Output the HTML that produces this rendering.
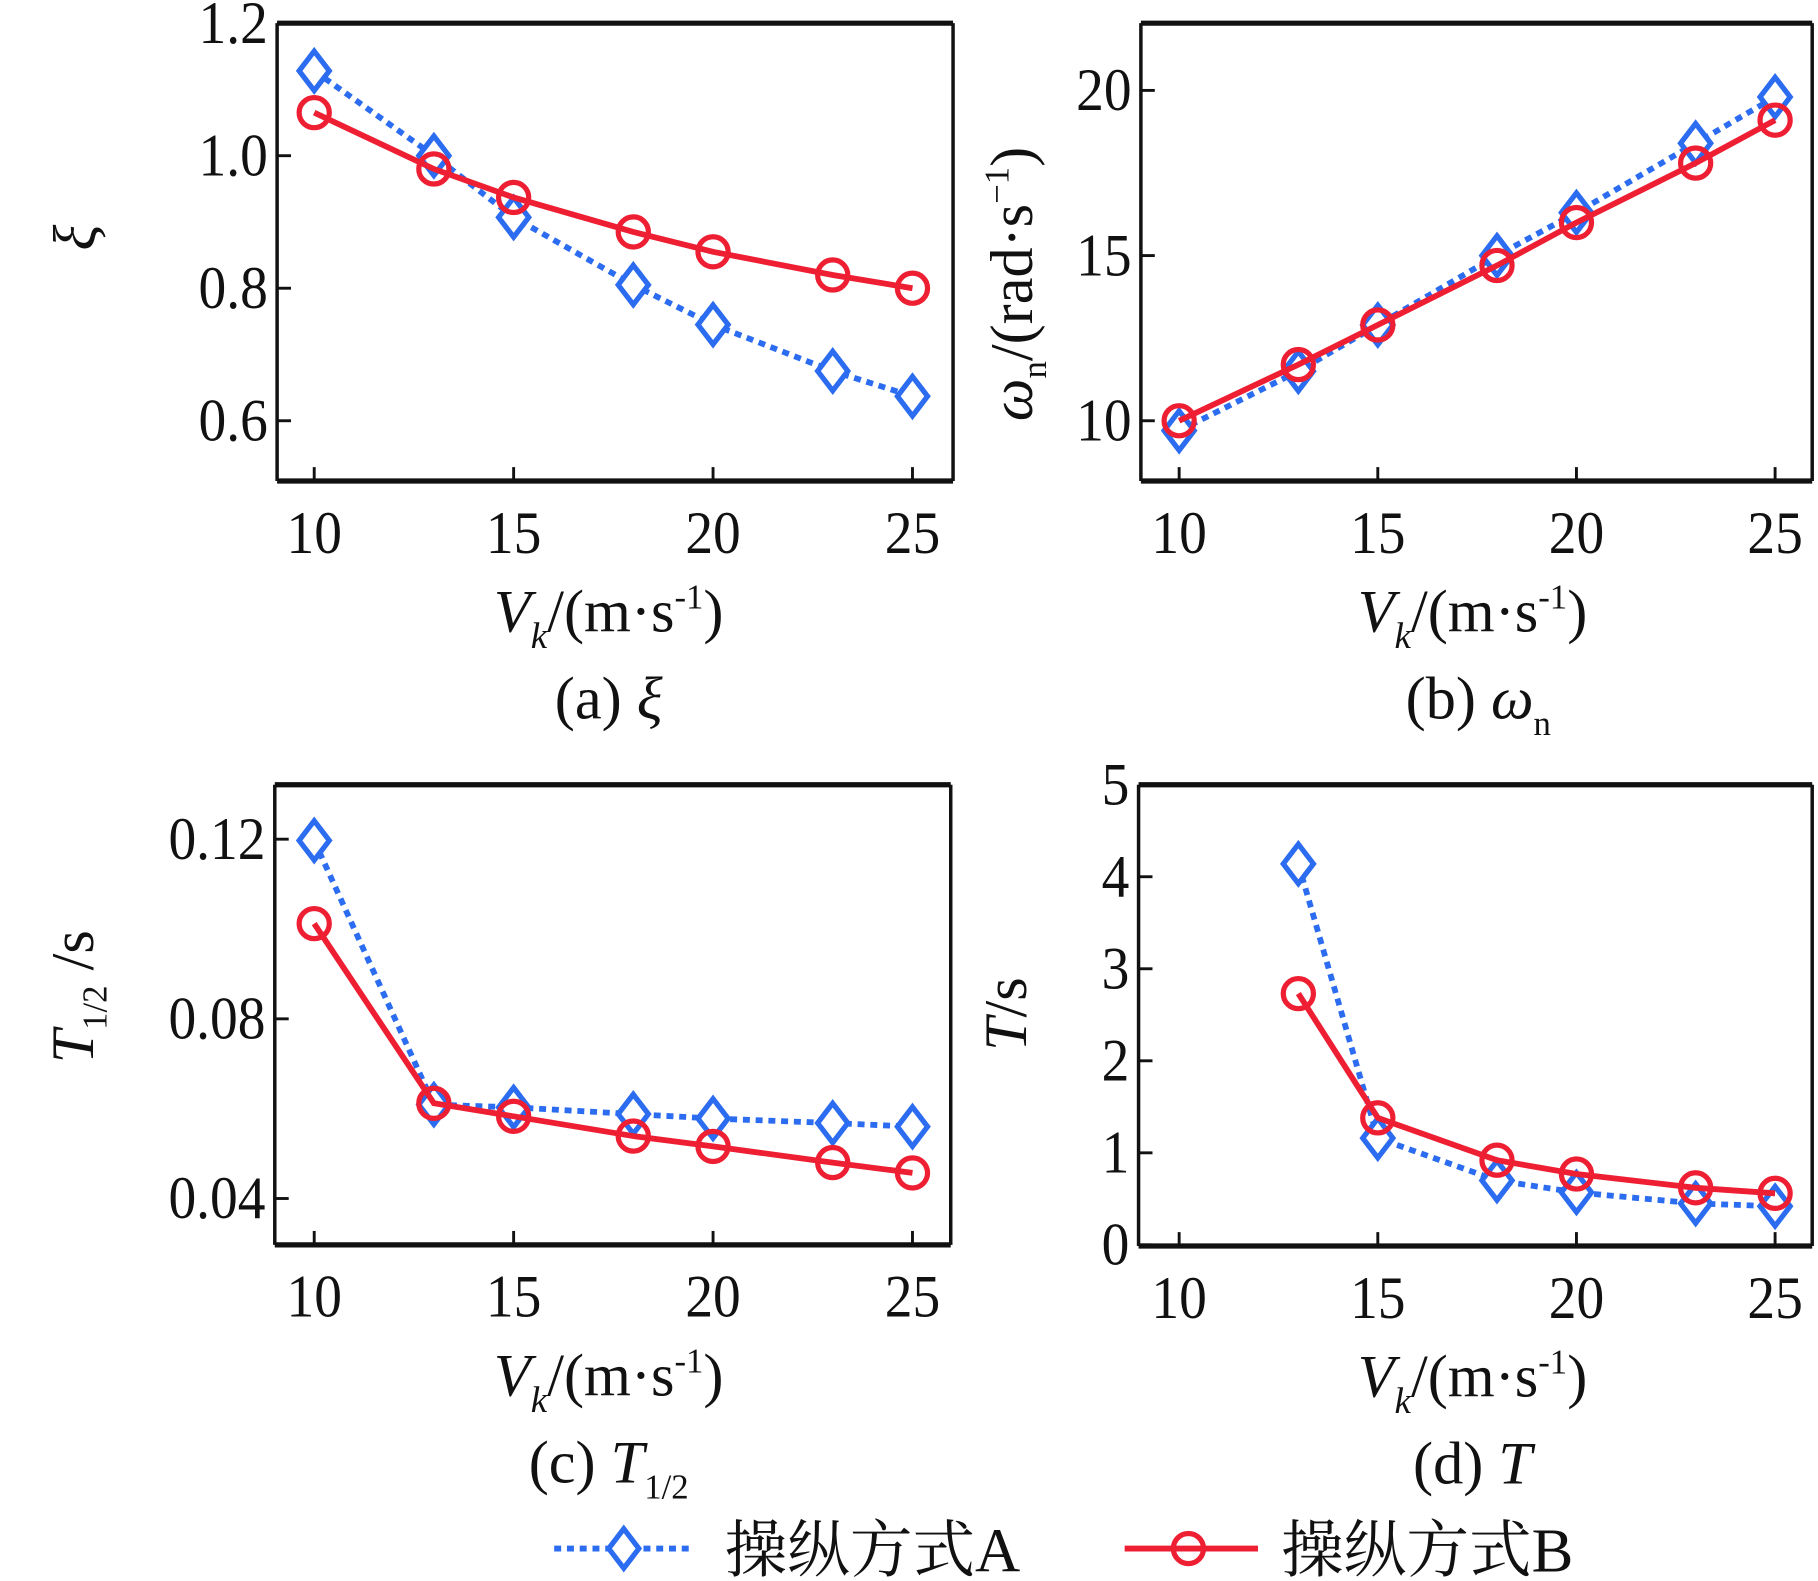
<!DOCTYPE html>
<html><head><meta charset="utf-8"><style>
html,body{margin:0;padding:0;background:#fff;}
svg{display:block;}
text{font-family:"Liberation Serif","Noto Serif CJK SC",serif;fill:#111;}
</style></head><body>
<svg id="fig" width="1818" height="1581" viewBox="0 0 1568 1364" preserveAspectRatio="none" xmlns="http://www.w3.org/2000/svg"></svg>
<script>
const speeds = [10, 13, 15, 18, 20, 23, 25];
const xiA = [1.128, 1.0, 0.907, 0.805, 0.745, 0.675, 0.637];
const xiB = [1.065, 0.98, 0.937, 0.885, 0.855, 0.82, 0.80];
const wnA = [9.7, 11.5, 12.9, 15.0, 16.3, 18.4, 19.8];
const wnB = [10.0, 11.7, 12.9, 14.7, 16.0, 17.8, 19.1];
const thA = [0.1197, 0.0609, 0.0603, 0.0588, 0.0578, 0.0568, 0.056];
const thB = [0.1012, 0.0612, 0.0583, 0.0539, 0.0516, 0.048, 0.0457];
const tSpeeds = [13, 15, 18, 20, 23, 25];
const tA = [4.14, 1.16, 0.70, 0.57, 0.45, 0.42];
const tB = [2.73, 1.38, 0.92, 0.77, 0.62, 0.56];
const xTicks = [10, 15, 20, 25];
const xiTicks = [0.6, 0.8, 1.0, 1.2];
const xiTickLabels = ["0.6", "0.8", "1.0", "1.2"];
const wnTicks = [10, 15, 20];
const wnTickLabels = ["10", "15", "20"];
const thTicks = [0.04, 0.08, 0.12];
const thTickLabels = ["0.04", "0.08", "0.12"];
const tTicks = [0, 1, 2, 3, 4, 5];
const tTickLabels = ["0", "1", "2", "3", "4", "5"];

const NS = "http://www.w3.org/2000/svg";
const svg = document.getElementById('fig');
const BLUE = "#2b6cf0", RED = "#ee1f33";
function mk(tag, attrs, parent) {
  const e = document.createElementNS(NS, tag);
  for (const k in attrs) e.setAttribute(k, attrs[k]);
  (parent || svg).appendChild(e);
  return e;
}
function diamond(g, x, y) {
  const d = mk('path', {d: `M${x} ${y-17} L${x+13} ${y} L${x} ${y+17} L${x-13} ${y} Z`, fill: '#fff', stroke: BLUE, 'stroke-width': 4.5}, g);
  
  
}
function circle(g, x, y) {
  const c = mk('circle', {cx: x, cy: y, r: 13, fill: 'none', stroke: RED, 'stroke-width': 4.5}, g);
  
  
}
function panel(p) {
  const g = mk('g', {});
  
  
  const sx = v => p.px0 + (v - 10) * (p.px1 - p.px0) / 15;
  const sy = v => p.py0 + (v - p.v0) * (p.py1 - p.py0) / (p.v1 - p.v0);
  xTicks.forEach(t => {
    const l = mk('line', {x1: sx(t), x2: sx(t), y1: p.b, y2: p.b - 12, stroke: '#111', 'stroke-width': 2.5}, g);
    
    
    const tx = mk('text', {x: 0, y: 0, 'font-size': 52, 'text-anchor': 'middle', transform: `translate(${sx(t)},${p.b + 62}) scale(0.92,1)`}, g);
    
    
    tx.textContent = t;
  });
  p.yt.forEach((t, i) => {
    const l = mk('line', {x1: p.l, x2: p.l + 12, y1: sy(t), y2: sy(t), stroke: '#111', 'stroke-width': 2.5}, g);
    
    
    const tx = mk('text', {x: 0, y: 0, 'font-size': 52, 'text-anchor': 'end', transform: `translate(${p.l - 8},${sy(t) + 17}) scale(0.92,1)`}, g);
    
    
    tx.textContent = p.ytl[i];
  });
  mk('line', {x1: p.l, x2: p.r, y1: p.t, y2: p.t, stroke: '#111', 'stroke-width': 4.5}, g);
  mk('line', {x1: p.l, x2: p.r, y1: p.b, y2: p.b, stroke: '#111', 'stroke-width': 4.5}, g);
  mk('line', {x1: p.l, x2: p.l, y1: p.t, y2: p.b, stroke: '#111', 'stroke-width': 3}, g);
  mk('line', {x1: p.r, x2: p.r, y1: p.t, y2: p.b, stroke: '#111', 'stroke-width': 3}, g);
  const ptsA = p.xs.map((v, i) => sx(v) + ',' + sy(p.a[i])).join(' ');
  const ptsB = p.xs.map((v, i) => sx(v) + ',' + sy(p.bb[i])).join(' ');
  const la = mk('polyline', {points: ptsA, fill: 'none', stroke: BLUE, 'stroke-width': 5, 'stroke-dasharray': '6 5'}, g);
  
  
  p.xs.forEach((v, i) => diamond(g, sx(v), sy(p.a[i])));
  const lb = mk('polyline', {points: ptsB, fill: 'none', stroke: RED, 'stroke-width': 5}, g);
  
  
  p.xs.forEach((v, i) => circle(g, sx(v), sy(p.bb[i])));
  const xl = mk('text', {x: p.xlx, y: p.b + 130, 'font-size': 52, 'text-anchor': 'middle'}, g);
  
  
  xl.innerHTML = '<tspan font-style="italic">V</tspan><tspan font-style="italic" font-size="32" dy="14">k</tspan><tspan dy="-14">/(m·s</tspan><tspan font-size="30" dy="-20">-1</tspan><tspan dy="20">)</tspan>';
  const cap = mk('text', {x: p.capx, y: p.b + 205, 'font-size': 52, 'text-anchor': 'middle'}, g);
  
  
  cap.innerHTML = p.cap;
  const yl = mk('text', {x: 0, y: 0, 'font-size': 52, 'text-anchor': 'middle', transform: `translate(${p.ylx},${p.yly}) rotate(-90)`}, g);
  
  
  yl.innerHTML = p.yl;
}
panel({name: 'panel-a-xi', l: 239, r: 822, t: 20, b: 415, px0: 271, px1: 787, v0: 1.2, v1: 0.6, py0: 20, py1: 363,
  xs: speeds, a: xiA, bb: xiB, yt: xiTicks, ytl: xiTickLabels, xlx: 525, capx: 525,
  cap: '(a) <tspan font-style="italic">ξ</tspan>', ylx: 82, yly: 205, yl: '<tspan font-style="italic">ξ</tspan>'});
panel({name: 'panel-b-omega', l: 984, r: 1563, t: 20, b: 415, px0: 1017, px1: 1531, v0: 20, v1: 10, py0: 78, py1: 363,
  xs: speeds, a: wnA, bb: wnB, yt: wnTicks, ytl: wnTickLabels, xlx: 1270, capx: 1275,
  cap: '(b) <tspan font-style="italic">ω</tspan><tspan font-size="30" dy="14">n</tspan>', ylx: 890, yly: 245,
  yl: '<tspan font-style="italic">ω</tspan><tspan font-size="30" dy="12">n</tspan><tspan dy="-12">/(rad·s</tspan><tspan font-size="30" dy="-20">−1</tspan><tspan dy="20">)</tspan>'});
panel({name: 'panel-c-half-time', l: 237, r: 820, t: 677, b: 1074, px0: 271, px1: 787, v0: 0.12, v1: 0.04, py0: 724, py1: 1034,
  xs: speeds, a: thA, bb: thB, yt: thTicks, ytl: thTickLabels, xlx: 525, capx: 525,
  cap: '(c) <tspan font-style="italic">T</tspan><tspan font-size="30" dy="14">1/2</tspan>', ylx: 80, yly: 860,
  yl: '<tspan font-style="italic">T</tspan><tspan font-size="30" dy="12">1/2</tspan><tspan dy="-12"> /s</tspan>'});
panel({name: 'panel-d-period', l: 982, r: 1563, t: 677, b: 1075, px0: 1017, px1: 1531, v0: 5, v1: 0, py0: 677, py1: 1074,
  xs: tSpeeds, a: tA, bb: tB, yt: tTicks, ytl: tTickLabels, xlx: 1270, capx: 1270,
  cap: '(d) <tspan font-style="italic">T</tspan>', ylx: 885, yly: 875, yl: '<tspan font-style="italic">T</tspan>/s'});
const lg = mk('g', {});


const l1 = mk('line', {x1: 478, x2: 598, y1: 1336, y2: 1336, stroke: BLUE, 'stroke-width': 5, 'stroke-dasharray': '6 5'}, lg);


diamond(lg, 538, 1336);
const t1 = mk('text', {x: 625, y: 1356, 'font-size': 54}, lg);


t1.textContent = '操纵方式A';
const l2 = mk('line', {x1: 970, x2: 1085, y1: 1336, y2: 1336, stroke: RED, 'stroke-width': 5}, lg);


circle(lg, 1025, 1336);
const t2 = mk('text', {x: 1105, y: 1356, 'font-size': 54}, lg);


t2.textContent = '操纵方式B';
</script>
</body></html>
